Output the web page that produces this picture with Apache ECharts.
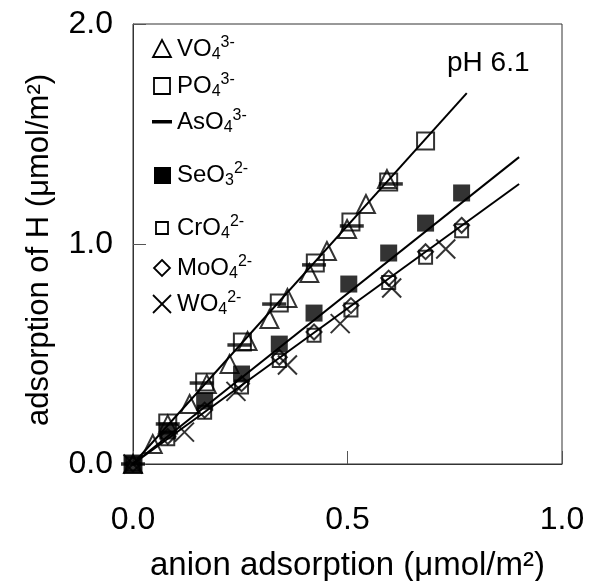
<!DOCTYPE html>
<html>
<head>
<meta charset="utf-8">
<script src="https://cdn.jsdelivr.net/npm/echarts@6/dist/echarts.min.js"></script>
<style>
html,body{margin:0;padding:0;background:#fff;}
#chart{width:589px;height:581px;}
</style>
</head>
<body>
<div id="chart"></div>
<script>
// ---- data ----
const vo4X = [0, 0.046, 0.081, 0.132, 0.172, 0.225, 0.267, 0.318, 0.36, 0.411, 0.452, 0.499, 0.543, 0.592];
const vo4Y = [0, 0.091, 0.18, 0.273, 0.364, 0.455, 0.559, 0.659, 0.755, 0.868, 0.968, 1.068, 1.182, 1.295];
const po4X = [0, 0.081, 0.167, 0.255, 0.341, 0.425, 0.508, 0.596, 0.682];
const po4Y = [0, 0.186, 0.373, 0.555, 0.732, 0.914, 1.10, 1.282, 1.468];
const aso4X = [0, 0.081, 0.16, 0.248, 0.329, 0.422, 0.51, 0.601];
const aso4Y = [0, 0.182, 0.368, 0.541, 0.727, 0.905, 1.082, 1.273];
const seo3X = [0, 0.081, 0.167, 0.253, 0.341, 0.422, 0.503, 0.596, 0.682, 0.766];
const seo3Y = [0, 0.15, 0.286, 0.409, 0.545, 0.686, 0.818, 0.959, 1.095, 1.232];
const cro4X = [0, 0.081, 0.167, 0.253, 0.341, 0.422, 0.508, 0.596, 0.682, 0.766];
const cro4Y = [0, 0.115, 0.235, 0.35, 0.47, 0.585, 0.70, 0.825, 0.94, 1.06];
const moo4X = [0, 0.081, 0.167, 0.253, 0.341, 0.422, 0.508, 0.596, 0.682, 0.766];
const moo4Y = [0, 0.125, 0.245, 0.365, 0.485, 0.60, 0.72, 0.845, 0.965, 1.085];
const wo4X = [0, 0.12, 0.24, 0.36, 0.483, 0.603, 0.729];
const wo4Y = [0, 0.145, 0.33, 0.45, 0.638, 0.80, 0.977];
// fitted lines (start at origin)
const fitNames = ['fit trivalent', 'fit SeO3', 'fit divalent'];
const fitEndX = [0.778, 0.90, 0.90];
const fitEndY = [1.686, 1.395, 1.273];
const xTicks = [0, 0.5, 1.0];
const yTicks = [0, 1.0, 2.0];

const zip = (xs, ys) => xs.map((x, i) => [x, ys[i]]);
const FONT = 'Liberation Sans, Arial, Helvetica, sans-serif';
const BLK = '#000';

const open = {color: 'rgba(0,0,0,0)', borderColor: BLK, borderWidth: 2};
const solid = {color: BLK, borderWidth: 0};

function scatter(name, xs, ys, symbol, size, style, z) {
  return {
    name, type: 'scatter', data: zip(xs, ys), symbol, symbolSize: size,
    itemStyle: style, z: z || 3, silent: true
  };
}

const series = [];
fitNames.forEach((n, i) => {
  series.push({
    name: n, type: 'line', data: [[0, 0], [fitEndX[i], fitEndY[i]]],
    showSymbol: false, symbol: 'none', lineStyle: {color: BLK, width: 2}, z: 2, silent: true
  });
});
series.push(scatter('VO4', vo4X, vo4Y, 'triangle', 18, open));
series.push(scatter('PO4', po4X, po4Y, 'rect', 17, open));
series.push(scatter('AsO4', aso4X, aso4Y, 'rect', [24, 3.5], solid));
series.push(scatter('SeO3', seo3X, seo3Y, 'rect', 17, solid));
series.push(scatter('CrO4', cro4X, cro4Y, 'rect', 13, open));
series.push(scatter('MoO4', moo4X, moo4Y, 'diamond', [15, 15], open));
series.push(scatter('WO4', wo4X, wo4Y, 'path://M0,0L10,10M10,0L0,10', 19, {color: 'rgba(0,0,0,0)', borderColor: BLK, borderWidth: 2}));

// legend built with graphic elements
const legendItems = [
  {main: 'VO', sub: '4', sup: '3-', y: 49},
  {main: 'PO', sub: '4', sup: '3-', y: 86},
  {main: 'AsO', sub: '4', sup: '3-', y: 122},
  {main: 'SeO', sub: '3', sup: '2-', y: 175},
  {main: 'CrO', sub: '4', sup: '2-', y: 228},
  {main: 'MoO', sub: '4', sup: '2-', y: 268},
  {main: 'WO', sub: '4', sup: '2-', y: 304}
];
const LX = 162, TX = 177;
const stroke = {stroke: BLK, lineWidth: 1.8, fill: 'none'};
const graphics = [];
const ly = legendItems.map(d => d.y);
graphics.push({type: 'polygon', shape: {points: [[LX - 9, ly[0] + 8], [LX + 9, ly[0] + 8], [LX, ly[0] - 9]]}, style: stroke});
graphics.push({type: 'rect', shape: {x: LX - 8, y: ly[1] - 8, width: 16, height: 16}, style: stroke});
graphics.push({type: 'rect', shape: {x: LX - 10, y: ly[2] - 2, width: 20, height: 3.5}, style: {fill: BLK}});
graphics.push({type: 'rect', shape: {x: LX - 8, y: ly[3] - 8, width: 17, height: 17}, style: {fill: BLK}});
graphics.push({type: 'rect', shape: {x: LX - 6, y: ly[4] - 6, width: 12, height: 12}, style: stroke});
graphics.push({type: 'polygon', shape: {points: [[LX, ly[5] - 8], [LX + 8, ly[5]], [LX, ly[5] + 8], [LX - 8, ly[5]]]}, style: stroke});
graphics.push({type: 'polyline', shape: {points: [[LX - 9, ly[6] - 9], [LX + 9, ly[6] + 9]]}, style: stroke});
graphics.push({type: 'polyline', shape: {points: [[LX + 9, ly[6] - 9], [LX - 9, ly[6] + 9]]}, style: stroke});
legendItems.forEach(d => {
  graphics.push({
    type: 'text', x: TX, y: d.y,
    style: {
      text: '{m|' + d.main + '}{s|' + d.sub + '}{p|' + d.sup + '}',
      verticalAlign: 'middle', align: 'left', fill: BLK,
      rich: {
        m: {fontSize: 24, fontFamily: FONT, lineHeight: 28, verticalAlign: 'middle', fill: BLK},
        s: {fontSize: 16, fontFamily: FONT, lineHeight: 16, verticalAlign: 'bottom', fill: BLK},
        p: {fontSize: 16, fontFamily: FONT, lineHeight: 16, verticalAlign: 'top', fill: BLK}
      }
    }
  });
});
graphics.push({type: 'text', x: 447, y: 63, style: {text: 'pH 6.1', fontSize: 28, fontFamily: FONT, fill: BLK, verticalAlign: 'middle'}});

const chart = echarts.init(document.getElementById('chart'), null, {renderer: 'canvas'});
chart.setOption({
  animation: false,
  backgroundColor: '#fff',
  grid: {left: 133, top: 24, right: 27, bottom: 117, outerBoundsMode: 'none', containLabel: false,
         show: true, borderColor: '#333', borderWidth: 1, backgroundColor: 'transparent'},
  xAxis: {
    type: 'value', min: xTicks[0], max: xTicks[xTicks.length - 1], interval: xTicks[1] - xTicks[0],
    name: 'anion adsorption (μmol/m²)', nameLocation: 'middle', nameGap: 85,
    nameTextStyle: {fontSize: 33, fontFamily: FONT, color: BLK},
    axisLine: {show: true, lineStyle: {color: '#333', width: 1}},
    axisTick: {show: true, inside: true, length: 13, lineStyle: {color: '#555', width: 1}},
    axisLabel: {fontSize: 32, fontFamily: FONT, color: BLK, margin: 40, formatter: v => v.toFixed(1)},
    splitLine: {show: false}
  },
  yAxis: {
    type: 'value', min: yTicks[0], max: yTicks[yTicks.length - 1], interval: yTicks[1] - yTicks[0],
    name: 'adsorption of H (μmol/m²)', nameLocation: 'middle', nameGap: 78,
    nameTextStyle: {fontSize: 31, fontFamily: FONT, color: BLK, padding: [0, 12, 0, 0]},
    axisLine: {show: true, lineStyle: {color: '#333', width: 1}},
    axisTick: {show: true, inside: true, length: 13, lineStyle: {color: '#555', width: 1}},
    axisLabel: {fontSize: 32, fontFamily: FONT, color: BLK, margin: 20, formatter: v => v.toFixed(1)},
    splitLine: {show: false}
  },
  series: series,
  graphic: graphics
});
</script>
</body>
</html>
